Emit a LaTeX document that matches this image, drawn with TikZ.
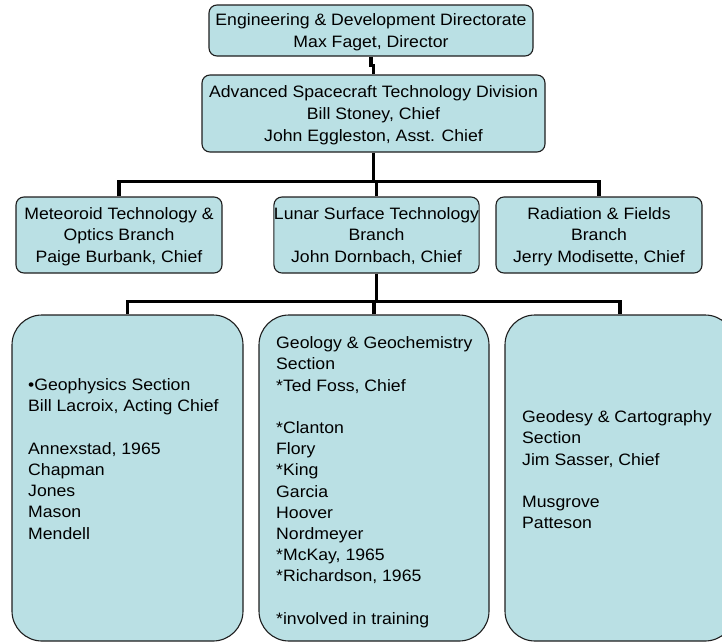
\documentclass[tikz,border=0pt]{standalone}
\usepackage{fontspec}
\setmainfont{Liberation Sans}[FakeStretch=1.07]
\definecolor{boxfill}{RGB}{186,224,228}
\definecolor{boxline}{RGB}{30,30,30}
\begin{document}
\begin{tikzpicture}[x=1pt,y=-1pt,
  box/.style={draw=boxline, fill=boxfill, line width=1.1pt, rectangle, inner sep=0pt, align=center,
    font=\fontsize{16.5}{21.6}\selectfont, text depth=0pt},
  smallr/.style={rounded corners=8pt},
  bigr/.style={rounded corners=30pt},
  conn/.style={draw=black, line width=3.5pt},
  txt/.style={inner sep=0pt, anchor=north west, align=left, font=\fontsize{16.5}{21.2}\selectfont}]
\useasboundingbox (0,0) rectangle (722,643);
\clip (0,0) rectangle (722,643);
% boxes
\node[box, smallr, minimum width=324pt, minimum height=51pt] (top) at (371,30.5)
  {Engineering \& Development Directorate\\Max Faget, Director};
\node[box, smallr, minimum width=343pt, minimum height=77pt] (div) at (373.5,113.5)
  {Advanced Spacecraft Technology Division\\Bill Stoney, Chief\\John Eggleston, Asst. Chief};
\node[box, smallr, minimum width=206pt, minimum height=76pt] (met) at (119,235)
  {Meteoroid Technology \&\\Optics Branch\\Paige Burbank, Chief};
\node[box, smallr, minimum width=205pt, minimum height=76pt] (lun) at (376.5,235)
  {Lunar Surface Technology\\Branch\\John Dornbach, Chief};
\node[box, smallr, minimum width=206pt, minimum height=76pt] (rad) at (599,235)
  {Radiation \& Fields\\Branch\\Jerry Modisette, Chief};
\node[box, bigr, minimum width=231pt, minimum height=326pt] (geo) at (127.5,478) {};
\node[box, bigr, minimum width=230pt, minimum height=326pt] (gg) at (374,478) {};
\node[box, bigr, minimum width=230pt, minimum height=326pt] (gc) at (620,478) {};
% connectors
\draw[conn] (top.south) -- ++(0,9) -| (div.north);
\draw[conn] (div.south) -- ++(0,30);
\draw[conn] (met.north) -- ++(0,-15) -| (rad.north);
\draw[conn] (lun.north) -- ++(0,-15);
\draw[conn] (lun.south) -- ++(0,29);
\draw[conn] (geo.north) -- ++(0,-13) -| (gc.north);
\draw[conn] (gg.north) -- ++(0,-13);
% section texts
\node[txt] (geotext) at (28,378.5)
  {\textbullet Geophysics Section\\Bill Lacroix, Acting Chief\\[21.2pt]Annexstad, 1965\\Chapman\\Jones\\Mason\\Mendell};
\node[txt] (ggtext) at (276,336.5)
  {Geology \& Geochemistry\\Section\\*Ted Foss, Chief\\[21.2pt]*Clanton\\Flory\\*King\\Garcia\\Hoover\\Nordmeyer\\*McKay, 1965\\*Richardson, 1965\\[21.2pt]*involved in training};
\node[txt] (gctext) at (522,410.5)
  {Geodesy \& Cartography\\Section\\Jim Sasser, Chief\\[21.2pt]Musgrove\\Patteson};
\end{tikzpicture}
\end{document}
